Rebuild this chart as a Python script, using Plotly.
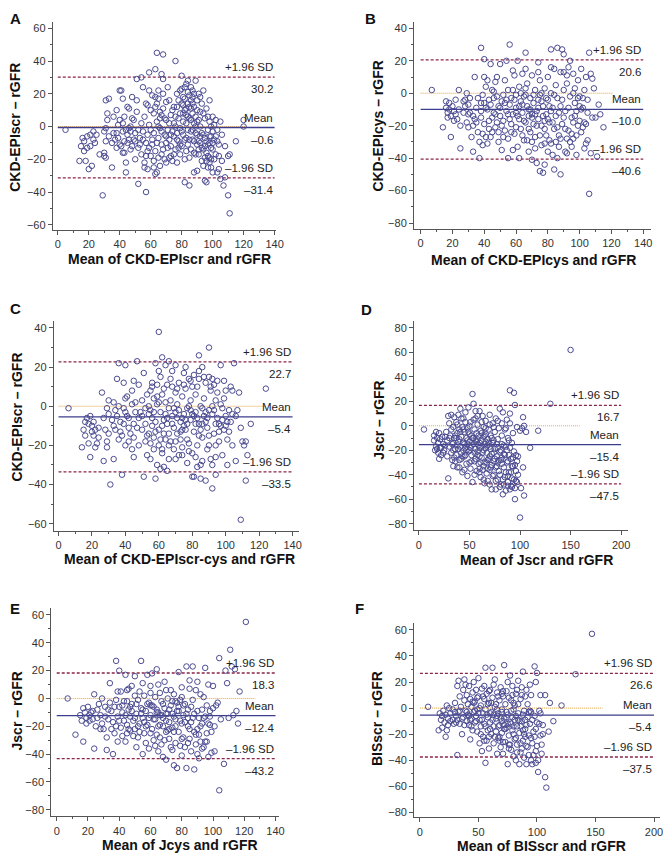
import plotly.graph_objects as go

# ---- data: (mean of the two methods, difference) ----
a_pts = [(5,-2),(14,-21),(15,-12),(16,-7),(17,-15),(18,-21),(19,-6),(20,-26),(21,-12),(21,-5),(22,-24),(23,-3),
         (23,-8),(24,-10),(25,-5),(17,-9),(19,-13),(27,-17),(29,-42),(30,-3),(30,-16),(30,-18),(31,-19),(31,-1),
         (31,-9),(31,16),(33,17),(32,4),(32,8),(33,-6),(35,-25),(36,-4),(37,-8),(38,-13),(38,10),(39,-7),(40,-11),
         (40,4),(40,22),(41,22),(42,-3),(42,2),(42,17),(43,6),(42,-16),(43,-16),(44,-28),(44,-22),(45,-10),(45,-5),
         (45,12),(46,11),(46,-1),(47,-3),(47,0),(48,18),(48,5),(48,-12),(49,-8),(50,-4),(50,-20),(51,16),(51,9),
         (52,-13),(51,29),(52,-2),(52,-35),(53,-7),(54,30),(54,2),(54,-17),(55,24),(55,-3),(56,-22),(56,-25),
         (57,-40),(57,-10),(57,14),(58,13),(58,-5),(58,-26),(58,-15),(59,-13),(59,33),(59,22),(59,1),(60,-2),
         (60,-18),(61,-8),(61,19),(62,-21),(62,-25),(62,-4),(63,35),(63,12),(63,18),(63,-29),(64,-10),(64,3),
         (64,-28),(64,45),(65,17),(65,22),(65,-7),(66,-24),(66,-1),(67,32),(67,-17),(67,-3),(68,44),(68,29),
         (68,11),(68,-14),(69,-5),(69,5),(70,-22),(70,15),(70,-10),(71,-2),(71,24),(72,-19),(72,-8),(72,2),
         (73,7),(73,-12),(74,-21),(74,-3),(75,12),(75,-6),(76,40),(76,-14),(76,0),(77,-4),(77,20),(77,-22),
         (78,5),(78,-9),(79,-17),(79,-1),(80,31),(80,14),(80,-12),(81,-5),(81,8),(82,-20),(82,-34),(82,17),
         (83,26),(83,2),(83,-7),(84,28),(84,14),(84,-11),(85,-36),(85,-19),(85,19),(85,5),(86,-3),(86,11),
         (86,-14),(87,18),(87,22),(87,-2),(88,-28),(88,-9),(88,12),(89,28),(89,6),(89,-17),(90,-27),(90,3),
         (90,16),(90,-5),(91,-14),(91,20),(92,-10),(92,0),(92,9),(93,-21),(93,-4),(93,14),(94,22),(94,-14),
         (94,-24),(95,-33),(95,-7),(95,5),(96,-34),(96,-16),(96,11),(97,-2),(97,-11),(98,16),(98,-19),(98,-22),
         (98,3),(99,-6),(99,-13),(100,-28),(100,6),(100,-3),(101,-20),(101,-8),(102,4),(103,-9),(103,-28),
         (104,-11),(105,3),(105,-32),(106,-5),(107,-36),(108,-12),(110,-42),(110,-18),(111,-53),(111,-17),
         (115,-9),(120,4),(120,0),(108,-31),(104,-26),(82,10),(84,6),(86,16),(88,2),(79,8),(81,13),(83,-15),
         (87,8),(91,-9),(95,-12),(97,-18),(99,0),
         (62,8),(63,-15),(64,14),(65,-19),(66,9),(67,-11),(68,20),(69,-20),(70,4),(71,-13),(72,16),(73,-5),
         (74,10),(75,-17),(76,6),(77,12),(78,-13),(79,22),(80,-3),(81,18),(82,-8),(83,11),(84,-2),(85,12),
         (86,24),(87,-8),(88,20),(89,-4),(90,10),(91,4),(92,18),(93,-13),(94,8),(95,-19),(96,-9),(97,6),
         (98,-6),(99,-25),(100,-14),(101,1),(102,-17),(103,-2),(79,-11),(78,16),(81,3),(83,7),(85,-8),(87,14),
         (89,0),(91,-17),(66,5),(60,10),(56,6),(53,-11),(49,4),(46,-8),(43,-9),(41,-12),(38,-4),(35,-10),
         (36,6),(39,1),(44,-2),(47,-14),(50,-9),(55,-8),(57,-18),(61,-11),(65,0),(67,7),(70,-6),(73,-18),
         (75,2),(77,-8),(80,23),(82,24),(84,21),(86,4),(88,-16),(90,-11),(92,-6),(94,-5),(96,-21),(98,-10),
         (100,-10),(102,-6),(104,-18),(106,-21),(97,-25),(99,-20)]

b_pts = [(7,2),(14,-21),(16,-5),(16,-9),(17,-12),(17,-15),(18,-6),(18,-10),(19,-27),(19,-14),(20,-8),(21,-11),
         (22,-4),(22,-13),(23,-16),(24,2),(25,-20),(25,-34),(27,-12),(28,-4),(28,-8),(29,0),(29,-18),(30,-21),
         (30,-7),(31,-3),(31,-12),(32,-27),(33,-20),(33,-36),(34,10),(34,-16),(35,-18),(35,-9),(36,-3),(37,-30),
         (37,-40),(38,-6),(38,-15),(38,28),(39,-25),(39,-32),(39,-1),(40,-19),(40,10),(40,21),(41,-27),(41,4),
         (42,-10),(42,-31),(42,8),(43,-4),(43,-17),(44,-7),(44,18),(45,-15),(45,-24),(46,-12),(46,1),(47,7),
         (47,-21),(48,-2),(48,10),(49,-24),(49,-8),(50,-14),(50,18),(51,-5),(51,-35),(52,-17),(52,-1),(53,8),
         (53,-23),(54,-11),(54,20),(55,-40),(55,-28),(55,2),(56,30),(56,-7),(57,-19),(57,-3),(58,-13),(58,-35),
         (59,11),(59,-25),(60,-9),(60,-1),(61,20),(61,-33),(62,-40),(62,-16),(62,4),(63,-5),(63,-22),(64,-12),
         (64,12),(65,-29),(65,-2),(66,25),(66,-18),(67,-8),(67,6),(68,-36),(68,-14),(69,-24),(69,-3),(70,11),
         (70,-41),(71,-19),(71,-6),(72,2),(72,-27),(73,-43),(73,-11),(74,19),(74,-16),(75,-48),(75,-1),(75,8),
         (76,-32),(76,-20),(77,-49),(77,-8),(78,-44),(78,3),(79,-13),(79,-26),(80,10),(80,-36),(80,-4),(81,-18),
         (81,-29),(82,27),(82,0),(83,-9),(83,-38),(84,15),(84,-47),(84,-22),(85,-14),(85,5),(86,28),(86,-3),
         (87,-33),(87,-26),(88,-50),(88,13),(88,-8),(89,-19),(89,27),(90,24),(90,2),(91,-36),(91,-11),(92,6),
         (92,-37),(93,-23),(93,16),(94,20),(94,-2),(95,-15),(95,-33),(96,12),(96,-28),(97,-6),(97,3),(98,-38),
         (98,-11),(99,8),(99,-20),(100,-17),(100,-2),(101,15),(101,-24),(102,-9),(103,2),(103,-34),(104,10),
         (105,-29),(105,-4),(106,-62),(106,25),(107,12),(108,-15),(108,9),(109,3),(110,-15),(111,-39),(112,-7),
         (113,-13),(115,-21),(107,-37),(102,-21),(104,-31),(96,0),(92,11),(60,-12),(64,-7),(68,-10),(72,-13),
         (76,-5),(66,-1),(70,-15),(74,-9),(78,-17),(82,-11),
         (41,-9),(43,-22),(45,2),(47,-13),(49,-30),(51,-20),(53,-6),(55,-13),(57,-24),(59,-4),(61,-14),(63,0),
         (65,-17),(67,-29),(69,-10),(71,-1),(73,-20),(75,-26),(77,-14),(79,-3),(81,-8),(83,-18),(85,-30),
         (87,-12),(89,-4),(91,-22),(93,-9),(95,-25),(97,-14),(99,-3),(101,-10),(103,-18),(105,-12),(44,-27),
         (46,-3),(48,-18),(50,-9),(52,-27),(54,-4),(56,-16),(58,2),(60,-21),(62,-8),(64,-26),(66,3),(68,-22),
         (70,-13),(72,-34),(74,-4),(76,0),(78,-22),(80,-16),(82,-31),(84,-1),(86,-21),(88,-28),(90,-15),
         (92,-28),(94,-30),(96,-18),(98,-26),(100,-8),(102,-3),(104,-19),(36,-24),(38,-11),(40,-6),(33,-14),
         (30,-13),(27,-5),(24,-10),(21,-17),(58,14),(66,15),(74,13),(82,16),(90,13),(70,-30),(86,-40),(78,-31)]

c_pts = [(6,-1),(14,-21),(15,-12),(16,-8),(16,-15),(17,-6),(18,-9),(18,-19),(19,-26),(19,-5),(20,-10),(20,-13),
         (21,-8),(21,-15),(22,-21),(23,-19),(24,-11),(26,7),(27,-28),(28,-12),(29,-1),(29,-18),(29,-21),(30,3),
         (30,-4),(31,-40),(32,-7),(33,-27),(33,2),(34,-2),(34,-12),(35,14),(35,-5),(36,22),(36,0),(37,-13),
         (37,-8),(38,-35),(38,-15),(39,-1),(39,12),(40,21),(40,-3),(40,-20),(41,-5),(41,5),(42,-11),(42,-18),
         (43,-14),(44,-22),(44,1),(45,-26),(45,13),(45,-9),(46,2),(46,-3),(47,23),(47,-11),(48,-20),(48,-6),
         (49,-3),(50,-5),(50,3),(51,17),(51,-36),(52,-9),(52,-1),(53,-25),(53,6),(54,-14),(54,-4),(55,-2),
         (55,-27),(55,-19),(56,10),(56,12),(56,-10),(57,4),(57,-16),(57,-22),(58,22),(58,-8),(58,-37),(59,-30),
         (59,1),(59,5),(60,38),(60,-20),(60,-12),(61,-32),(61,15),(61,-3),(62,25),(62,-24),(62,6),(63,-31),
         (63,-14),(63,-7),(64,21),(64,2),(64,-17),(65,-33),(65,-9),(65,11),(66,23),(66,-1),(66,-27),(67,-18),
         (67,3),(68,-5),(68,10),(69,-22),(69,-11),(70,21),(70,7),(70,-3),(71,-14),(71,1),(72,-25),(72,12),
         (73,-8),(73,-17),(74,5),(74,-21),(75,17),(75,-4),(76,-12),(76,9),(77,-29),(77,-1),(78,14),(78,-19),
         (79,-7),(79,3),(80,-24),(80,10),(81,-36),(81,-13),(81,16),(82,-3),(82,6),(83,-31),(83,-20),(84,26),
         (84,14),(84,-9),(85,0),(85,-30),(86,-16),(86,20),(87,4),(87,-5),(88,-38),(88,12),(89,-22),(89,-11),
         (90,30),(90,-2),(90,15),(91,8),(91,-27),(92,-42),(92,-30),(92,0),(93,11),(93,-14),(94,-35),(94,-20),
         (94,3),(95,-6),(95,13),(96,-9),(96,-18),(97,21),(97,1),(98,-7),(98,-25),(99,-12),(99,13),(100,-5),
         (100,8),(101,-17),(101,-30),(102,-2),(103,-8),(104,-20),(104,8),(105,22),(106,-28),(106,-5),(107,-2),
         (108,7),(109,-11),(109,-58),(110,-18),(111,-20),(112,-38),(112,-18),(113,-25),(115,-9),(124,9),
         (85,-37),(80,-36),(74,-6),(77,-9),(79,-2),(83,-6),(86,-9),(71,-6),(75,-10),(88,-3),
         (50,-12),(52,-18),(54,0),(56,-6),(58,-13),(60,2),(62,-10),(64,-4),(66,-14),(68,-9),(70,-18),(72,-2),
         (74,-12),(76,-7),(78,0),(80,-4),(82,-9),(84,-15),(86,-1),(88,-8),(90,-15),(92,-4),(94,-9),(96,-13),
         (98,-1),(100,-10),(102,-13),(104,-4),(53,-15),(57,-3),(61,-17),(65,-6),(69,-1),(73,-13),(77,-17),
         (81,-5),(85,-12),(89,-6),(93,-2),(97,-10),(101,-8),(55,8),(59,11),(63,9),(67,14),(71,9),(75,11),
         (79,13),(83,10),(87,15),(91,10),(95,7),(99,4),(103,10),(62,-22),(66,-20),(70,-27),(74,-25),(78,-23),
         (82,-26),(86,-28),(90,-20),(94,-26),(60,18),(68,18),(76,20),(84,18),(92,14),(45,-16),(42,-6),(39,-9),
         (36,-17),(33,-10),(30,-14),(27,-6),(24,-16),(22,-12),(40,4),(44,8),(48,11)]

d_pts = [(5,-3),(15,-8),(15,-12),(16,-20),(17,-17),(17,-5),(18,-10),(19,-14),(19,-22),(20,-6),(20,-27),(21,-11),
         (22,-18),(22,-24),(23,-9),(24,-15),(25,-20),(27,-5),(28,-12),(29,-43),(29,8),(30,-17),(30,2),(31,-8),
         (32,-22),(32,9),(33,-28),(34,-1),(34,-14),(35,-10),(35,7),(36,-19),(37,-24),(37,3),(38,-34),(38,-6),
         (39,-13),(39,9),(40,-28),(40,-3),(41,-17),(41,14),(42,-9),(42,-22),(43,-1),(43,-38),(44,-14),(44,6),
         (45,-25),(45,-5),(46,-18),(46,11),(47,-31),(47,-10),(48,-2),(48,-41),(49,-21),(49,15),(50,-13),(50,-7),
         (51,-35),(51,3),(52,-24),(52,-16),(53,-46),(53,26),(54,-10),(54,18),(55,-29),(55,-3),(56,-19),(56,6),
         (57,-37),(57,-13),(58,-24),(58,1),(59,-8),(59,-31),(60,12),(60,-18),(61,-42),(61,-4),(62,-26),(62,-12),
         (63,8),(63,-36),(64,-20),(64,-1),(65,-15),(65,-30),(66,-7),(66,4),(67,-39),(67,-22),(68,-11),(68,-45),
         (69,-27),(69,-3),(70,-17),(70,9),(71,-34),(71,-8),(72,-52),(72,-23),(73,2),(73,-14),(74,-29),(74,-40),
         (75,-5),(75,-19),(76,-52),(76,6),(77,-33),(77,-25),(78,-11),(78,-44),(79,-2),(79,-37),(80,-21),(80,14),
         (81,-48),(81,-28),(82,-8),(82,-15),(83,-56),(83,11),(84,-34),(84,-23),(85,-3),(85,-42),(86,-53),
         (86,-17),(87,-30),(87,5),(88,-46),(88,-10),(89,-24),(89,-38),(90,29),(90,2),(91,-49),(91,-27),(92,-14),
         (92,-43),(93,-33),(93,-6),(94,27),(94,-21),(95,-60),(95,-51),(95,17),(96,-37),(96,-45),(97,-29),(97,-1),
         (98,-25),(100,-75),(100,-4),(101,-51),(102,-2),(103,7),(103,-34),(104,-57),(104,0),(106,-5),(110,-18),
         (118,-4),(130,18),(150,62),(90,-52),(88,-49),(60,-14),(64,-9),(68,-16),(56,-12),(52,-8),(48,-15),
         (44,-20),(58,-21),(62,-17),(66,-13),(70,-25),(74,-12),(78,-30),(82,-26),
         (30,-10),(32,-3),(34,-20),(36,-8),(38,-16),(40,-11),(42,-27),(44,-3),(46,-24),(48,-12),(50,-20),
         (52,-29),(54,-15),(56,-27),(58,-11),(60,-25),(62,-6),(64,-33),(66,-18),(68,-28),(70,-36),(72,-10),
         (74,-22),(76,-34),(78,-18),(80,-40),(82,-31),(84,-16),(86,-38),(88,-29),(90,-18),(92,-33),(94,-44),
         (96,-24),(98,-40),(33,-15),(35,-26),(37,-10),(39,-19),(41,-5),(43,-25),(45,-15),(47,-20),(49,-5),
         (51,-18),(53,-10),(55,-22),(57,-6),(59,-16),(61,-30),(63,-22),(65,-8),(67,-30),(69,-14),(71,-19),
         (73,-41),(75,-27),(77,-15),(79,-28),(81,-20),(83,-44),(85,-24),(87,-20),(89,-12),(91,-38),(93,-26),
         (95,-32),(97,-46),(54,5),(58,8),(62,3),(66,-2),(70,1),(74,-1),(78,4),(82,2),(86,-2),(90,10),(46,3),
         (42,6),(38,1),(50,0),(56,12),(60,-38),(64,-44),(68,-35),(72,-32),(76,-45),(80,-50),(84,-48),(88,-41),
         (92,-50),(26,-16),(24,-22),(28,-25),(21,-18),(18,-19),(26,-9),(34,-33),(36,-29),(40,-34),(45,-36),
         (50,-30),(55,-40),(60,-35),(65,-47),(70,-48)]

e_pts = [(7,0),(12,-26),(15,-12),(16,-16),(17,-7),(17,-31),(18,-10),(19,-14),(19,-18),(20,-6),(21,-12),(22,-10),
         (23,-15),(24,-36),(24,3),(25,-20),(26,-8),(27,-4),(28,-12),(29,0),(29,-18),(30,-22),(31,-6),(32,-28),
         (32,-37),(33,-15),(34,11),(34,-3),(35,-9),(36,-17),(36,-40),(37,-25),(38,27),(38,-1),(39,-13),(39,-31),
         (40,-6),(40,20),(41,-21),(41,5),(42,-27),(42,-10),(43,-16),(44,-31),(44,17),(45,-2),(45,-19),(46,-8),
         (46,7),(47,-13),(47,-23),(48,9),(48,-4),(49,-16),(50,-22),(50,16),(51,-11),(51,-35),(52,-1),(52,-28),
         (53,5),(53,-18),(54,27),(54,-7),(55,-40),(55,-14),(56,-25),(56,2),(57,-32),(57,-9),(58,17),(58,-19),
         (59,-3),(59,-36),(60,-12),(60,9),(61,-22),(61,18),(62,-6),(62,-30),(63,-15),(63,1),(64,21),(64,-26),
         (65,-10),(65,-38),(66,4),(66,-19),(67,-33),(67,-2),(68,-14),(68,-42),(69,-7),(69,12),(70,-24),(70,-44),
         (71,-11),(71,0),(72,-29),(72,-17),(73,6),(73,-5),(74,-21),(74,-37),(75,-48),(75,-13),(76,-2),(76,-32),
         (77,-50),(77,-9),(78,19),(78,-24),(79,-16),(79,-1),(80,8),(80,-41),(81,-28),(81,-12),(82,-35),(82,-4),
         (83,23),(83,-50),(84,-20),(84,-8),(85,13),(85,-29),(86,-17),(86,-38),(87,23),(87,-1),(88,-51),(88,-11),
         (89,-26),(89,6),(90,-40),(90,-22),(91,-14),(91,-43),(92,3),(92,-31),(93,-8),(93,-18),(94,-35),(94,1),
         (95,22),(95,-13),(96,-31),(96,-5),(97,10),(97,-42),(98,-19),(98,-9),(99,-39),(100,9),(101,-38),
         (101,-20),(102,-5),(103,-3),(104,29),(104,-66),(105,-15),(107,-47),(108,20),(109,11),(110,-14),
         (111,35),(112,23),(113,-12),(114,21),(115,-9),(116,-18),(117,5),(121,55),(60,-5),(64,-10),(68,-20),
         (72,-8),(76,-15),(80,-18),(84,-14),(66,-12),(70,-16),(74,-11),(78,-6),
         (40,-16),(42,-5),(44,-12),(46,-22),(48,-9),(50,-14),(52,-20),(54,-11),(56,-17),(58,-4),(60,-25),
         (62,-15),(64,-8),(66,-28),(68,-4),(70,-11),(72,-22),(74,-2),(76,-20),(78,-9),(80,-29),(82,-17),
         (84,-32),(86,-6),(88,-24),(90,-9),(92,-20),(94,-14),(96,-25),(98,-13),(100,-7),(43,-2),(45,-25),
         (47,-6),(49,-27),(51,-4),(53,-24),(55,-8),(57,-20),(59,-14),(61,-5),(63,-34),(65,-20),(67,-12),
         (69,-30),(71,-23),(73,-35),(75,-24),(77,-3),(79,-34),(81,-5),(83,-11),(85,-22),(87,-14),(89,-33),
         (91,-26),(93,-36),(95,-31),(97,-18),(99,-24),(50,2),(55,11),(60,4),(65,10),(70,6),(75,3),(80,1),
         (85,7),(90,12),(35,-22),(33,-8),(31,-13),(28,-22),(26,-14),(23,-9),(21,-16),(38,-20),(37,-6),(39,5),
         (45,6)]

f_pts = [(7,1),(16,-17),(17,-4),(18,-9),(19,-6),(19,-15),(20,-2),(21,-11),(22,-22),(22,-5),(23,2),(23,-17),
         (24,-8),(25,0),(26,-4),(28,-9),(29,-12),(30,4),(31,-6),(31,-11),(32,17),(32,-36),(33,21),(33,-3),(34,9),
         (34,-12),(35,1),(36,-20),(37,14),(37,-7),(38,6),(38,22),(39,-2),(39,18),(40,-10),(40,10),(41,-5),(41,3),
         (42,-13),(42,17),(43,7),(43,-24),(44,1),(44,-8),(45,12),(45,-17),(46,-3),(46,20),(47,5),(47,-11),
         (48,14),(48,-6),(49,-1),(49,-18),(50,9),(50,23),(51,-27),(51,-9),(52,2),(52,-14),(53,-33),(53,15),
         (54,-4),(54,-22),(55,7),(55,-12),(56,31),(56,-42),(56,-1),(57,-25),(57,11),(58,-7),(58,-17),(59,4),
         (59,-31),(60,14),(60,-11),(61,-3),(61,-20),(62,31),(62,8),(63,-14),(63,-27),(64,1),(64,22),(65,-8),
         (65,-18),(66,12),(66,-35),(67,-4),(67,-23),(68,6),(68,-13),(69,-30),(69,16),(70,-1),(70,-19),(71,9),
         (71,-35),(72,33),(72,-8),(73,-26),(73,3),(74,-15),(74,13),(75,-43),(75,-5),(76,-21),(76,8),(77,-11),
         (77,25),(78,-32),(78,-2),(79,-17),(79,17),(80,-37),(80,4),(81,-24),(81,-9),(82,11),(82,-40),(83,-14),
         (83,-28),(84,21),(84,-4),(85,-43),(85,-19),(86,7),(86,-34),(87,-10),(87,16),(88,-25),(88,28),(89,-38),
         (89,-2),(90,-16),(90,9),(91,-43),(91,-29),(92,-7),(92,3),(93,-21),(93,-36),(94,-12),(94,18),(95,-40),
         (95,-3),(96,-27),(96,-43),(97,-18),(98,32),(98,-6),(99,-33),(100,-11),(100,27),(101,-49),(102,-2),
         (103,10),(103,-21),(104,-28),(105,-13),(107,-53),(107,10),(108,-61),(110,-18),(111,4),(114,-10),
         (121,2),(133,26),(147,57),(66,-6),(70,-10),(74,-3),(78,-12),(82,-6),(86,-14),(68,-22),(72,-16),
         (76,-28),(80,-20),(84,-9),(88,-17),
         (40,-3),(42,-6),(44,-14),(46,4),(48,-10),(50,-4),(52,-20),(54,9),(56,-14),(58,3),(60,-16),(62,-9),
         (64,-22),(66,-1),(68,-25),(70,11),(72,-13),(74,-7),(76,-31),(78,6),(80,-14),(82,-23),(84,3),(86,-27),
         (88,-5),(90,-22),(92,-30),(94,-2),(96,-9),(98,-22),(100,-29),(43,-9),(45,5),(47,-2),(49,8),(51,0),
         (53,-9),(55,-25),(57,-5),(59,-22),(61,4),(63,-5),(65,3),(67,-14),(69,-8),(71,-26),(73,-16),(75,-12),
         (77,-28),(79,-7),(81,2),(83,-34),(85,-10),(87,-31),(89,-20),(91,-13),(93,-3),(95,-23),(97,-36),
         (99,-16),(55,17),(59,13),(63,18),(67,9),(71,13),(75,20),(79,10),(83,14),(87,10),(91,14),(95,10),
         (99,20),(103,-4),(105,-20),(102,-12),(104,-35),(101,-40),(99,-42),(36,-8),(34,-2),(32,-9),(30,-3),
         (28,-1),(26,-10),(24,-13),(38,-13),(60,-4),(70,-3),(80,-1),(90,-9)]

# limits of agreement and mean bias: (upper, mean, lower)
a_stats = (30.2, -0.6, -31.4)
b_stats = (20.6, -10.0, -40.6)
c_stats = (22.7, -5.4, -33.5)
d_stats = (16.7, -15.4, -47.5)
e_stats = (18.3, -12.4, -43.2)
f_stats = (26.6, -5.4, -37.5)

letters = ["A", "B", "C", "D", "E", "F"]
x_titles = ["Mean of CKD-EPIscr and rGFR", "Mean of CKD-EPIcys and rGFR", "Mean of CKD-EPIscr-cys and rGFR",
            "Mean of Jscr and rGFR", "Mean of Jcys and rGFR", "Mean of BISscr and rGFR"]
y_titles = ["CKD-EPIscr \u2013 rGFR", "CKD-EPIcys \u2013 rGFR", "CKD-EPIscr \u2013 rGFR",
            "Jscr \u2013 rGFR", "Jscr \u2013 rGFR", "BISscr \u2013 rGFR"]

# page body keeps an 8px margin, so the figure is drawn 8px smaller and all positions are shifted
OFF = 8
W, H = 671 - OFF, 855 - OFF
FONT = "Liberation Sans, Arial, sans-serif"
PT_COL = "#4b4b92"
LOA_COL = "#8a2448"
MEAN_COL = "#3d3d8e"
ZERO_COL = "#e8a23c"

def px_x(v):
    return (v - OFF) / W

def px_y(v):
    return 1 - (v - OFF) / H

# layout per panel: pixel box (left, right, top, bottom) in the 671x855 page, axis ranges, ticks, line ends
# lt = top-left corner of the panel letter
panels = [
    dict(pts=a_pts, st=a_stats, box=(53.3, 279.3, 21.7, 230), xr=[-3.2, 141.2], yr=[-63, 64], xd=20, xm=10, yd=20,
         xend=140, zend=122, xt=(171.7, 259.3), yt=(15, 127), lt=(8, 8)),
    dict(pts=b_pts, st=b_stats, box=(418.3, 657.7, 21.7, 229.3), xr=[-4.2, 144.8], yr=[-83.7, 44.1], xd=20, xm=10, yd=20,
         xend=140, zend=121, xt=(539, 260), yt=(381.7, 126), lt=(366.5, 8)),
    dict(pts=c_pts, st=c_stats, box=(54.3, 301.7, 321.7, 531.7), xr=[-2.8, 143.6], yr=[-63.8, 43.4], xd=20, xm=10, yd=20,
         xend=140, zend=124, xt=(181.7, 560), yt=(16.7, 417.5), lt=(8, 298.5)),
    dict(pts=d_pts, st=d_stats, box=(418.3, 634.3, 321.7, 531), xr=[-4.9, 206.5], yr=[-85.5, 85.4], xd=50, xm=None, yd=20,
         xend=200, zend=159, xt=(541.7, 561), yt=(383.3, 420.8), lt=(363, 299.5)),
    dict(pts=e_pts, st=e_stats, box=(51.7, 281.7, 608.3, 817.3), xr=[-3.5, 142.1], yr=[-84.7, 65.3], xd=20, xm=10, yd=20,
         xend=140, zend=127, xt=(181.7, 846), yt=(16.7, 711.7), lt=(8, 598.5)),
    dict(pts=f_pts, st=f_stats, box=(418.5, 666.7, 624, 818.3), xr=[-4.9, 204.9], yr=[-83.8, 65.1], xd=50, xm=None, yd=20,
         xend=200, zend=156, xt=(546.7, 846.7), yt=(381.7, 719.2), lt=(357, 598.5)),
]

fig = go.Figure()
layout = dict(width=W, height=H, margin=dict(l=0, r=0, t=0, b=0), showlegend=False,
              paper_bgcolor="white", plot_bgcolor="white", font=dict(family=FONT, color="#222"))
shapes, annotations = [], []

def fmt(v):
    return ("%.1f" % v).replace("-", "\u2013")

for i, p in enumerate(panels):
    n = "" if i == 0 else str(i + 1)
    xa, ya = "x" + n, "y" + n
    left, right, top, bottom = p["box"]
    axis_common = dict(showline=True, linecolor="#555", linewidth=1, ticks="outside", ticklen=4,
                       tickcolor="#555", showgrid=False, zeroline=False,
                       tickfont=dict(size=11, color="#333", family=FONT))
    xmin = dict(ticks="outside", ticklen=2, dtick=p["xm"], tickcolor="#555") if p["xm"] else dict(ticks="")
    layout["xaxis" + n] = dict(axis_common, domain=[px_x(left), px_x(right)], range=p["xr"], dtick=p["xd"],
                               tick0=0, anchor=ya, minor=xmin)
    layout["yaxis" + n] = dict(axis_common, domain=[px_y(bottom), px_y(top)], range=p["yr"], dtick=p["yd"],
                               tick0=0, anchor=xa, minor=dict(ticks="outside", ticklen=2, dtick=10, tickcolor="#555"))

    xs = [q[0] for q in p["pts"]]
    ys = [q[1] for q in p["pts"]]
    fig.add_trace(go.Scatter(x=xs, y=ys, mode="markers", xaxis=xa, yaxis=ya,
                             marker=dict(symbol="circle-open", size=5.5, color=PT_COL, line=dict(width=1))))

    up, mean, lo = p["st"]
    shapes.append(dict(type="line", xref=xa, yref=ya, x0=0, x1=p["zend"], y0=0, y1=0, layer="below",
                       line=dict(color=ZERO_COL, width=1, dash="1px,1px")))
    shapes.append(dict(type="line", xref=xa, yref=ya, x0=0, x1=p["xend"], y0=mean, y1=mean, layer="below",
                       line=dict(color=MEAN_COL, width=1.3)))
    for v in (up, lo):
        shapes.append(dict(type="line", xref=xa, yref=ya, x0=0, x1=p["xend"], y0=v, y1=v, layer="below",
                           line=dict(color=LOA_COL, width=1.3, dash="3px,2px")))

    for v, above, below in ((up, "+1.96 SD", fmt(up)), (mean, "Mean", fmt(mean)), (lo, "\u20131.96 SD", fmt(lo))):
        for txt, sh in ((above, 10), (below, -12)):
            annotations.append(dict(text=txt, xref=xa, yref=ya, x=p["xend"], y=v, yshift=sh, xanchor="right",
                                    yanchor="middle", showarrow=False, font=dict(size=11.5, color="#222")))

    annotations.append(dict(text="<b>%s</b>" % x_titles[i], xref="paper", yref="paper", x=px_x(p["xt"][0]),
                            y=px_y(p["xt"][1]), xanchor="center", yanchor="middle", showarrow=False,
                            font=dict(size=14, color="#111")))
    annotations.append(dict(text="<b>%s</b>" % y_titles[i], xref="paper", yref="paper", x=px_x(p["yt"][0]),
                            y=px_y(p["yt"][1]), xanchor="center", yanchor="middle", textangle=-90,
                            showarrow=False, font=dict(size=14, color="#111")))
    annotations.append(dict(text="<b>%s</b>" % letters[i], xref="paper", yref="paper", x=px_x(p["lt"][0]),
                            y=px_y(p["lt"][1]), xanchor="left", yanchor="top", showarrow=False,
                            font=dict(size=15, color="#111")))

layout["shapes"] = shapes
layout["annotations"] = annotations
fig.update_layout(**layout)
fig.write_html("out.html")
